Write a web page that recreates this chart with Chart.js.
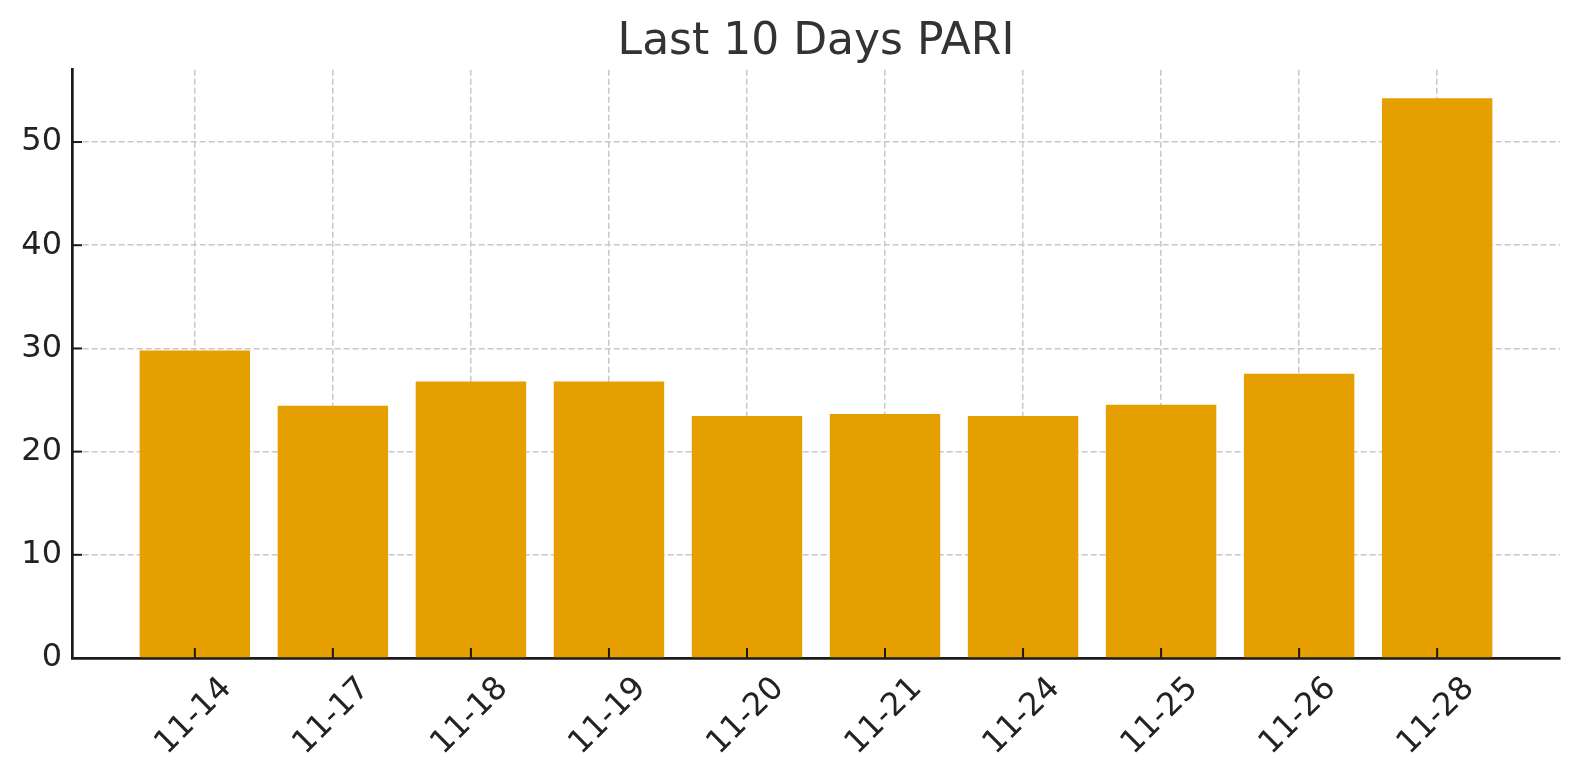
<!DOCTYPE html>
<html>
<head>
<meta charset="utf-8">
<title>Last 10 Days PARI</title>
<script src="https://cdn.jsdelivr.net/npm/chart.js@4.4.1/dist/chart.umd.min.js"></script>
<style>
  html, body { margin: 0; padding: 0; background: #fff; }
  #wrap { width: 1580px; height: 780px; }
</style>
</head>
<body>
<div id="wrap"><canvas id="grafico"></canvas></div>
<script>
// ── datos ──────────────────────────────
const dias = ['11-14', '11-17', '11-18', '11-19', '11-20', '11-21', '11-24', '11-25', '11-26', '11-28'];
const pari = [29.8, 24.45, 26.8, 26.8, 23.45, 23.65, 23.45, 24.55, 27.55, 54.25];
const yTicks = [0, 10, 20, 30, 40, 50];

const FUENTE = "'DejaVu Sans', sans-serif";

// ticks hacia dentro, como en matplotlib
const ticksDentro = {
    id: 'ticksDentro',
    afterDraw(chart) {
        const ctx = chart.ctx;
        const { x, y } = chart.scales;
        const area = chart.chartArea;
        ctx.save();
        ctx.strokeStyle = '#1a1a1a';
        ctx.lineWidth = 2;
        x.ticks.forEach((t, i) => {
            const px = x.getPixelForTick(i);
            ctx.beginPath();
            ctx.moveTo(px, area.bottom);
            ctx.lineTo(px, area.bottom - 10);
            ctx.stroke();
        });
        y.ticks.forEach((t, i) => {
            const py = y.getPixelForTick(i);
            ctx.beginPath();
            ctx.moveTo(area.left, py);
            ctx.lineTo(area.left + 10, py);
            ctx.stroke();
        });
        ctx.restore();
    }
};

new Chart(document.getElementById('grafico'), {
    type: 'bar',
    data: {
        datasets: [{
            label: 'PARI',
            data: dias.map((d, i) => ({ x: i, y: pari[i] })),
            backgroundColor: '#E69F00',
            borderWidth: 0,
            categoryPercentage: 0.8,
            barPercentage: 1.0,
        }]
    },
    options: {
        responsive: true,
        maintainAspectRatio: false,
        animation: false,
        layout: { padding: { left: 0, right: 20, top: 0, bottom: 0 } },
        plugins: {
            legend: { display: false },
            tooltip: { enabled: false },
            title: {
                display: true,
                fullSize: false,
                text: 'Last 10 Days PARI',
                color: '#333',
                font: { family: FUENTE, size: 44, weight: 'normal' },
                padding: { top: 16, bottom: 1 }
            }
        },
        scales: {
            x: {
                type: 'linear',
                min: -0.89,
                max: 9.89,
                offset: false,
                z: 1,
                afterBuildTicks: (s) => { s.ticks = dias.map((d, i) => ({ value: i })); },
                afterFit: (s) => { s.height = 122; },
                grid: { offset: false, color: '#c8c8c8', lineWidth: 1.5, drawTicks: false, tickLength: 0 },
                border: { display: true, color: '#1a1a1a', width: 2.7, dash: [6, 3] },
                ticks: {
                    autoSkip: false,
                    minRotation: 45,
                    maxRotation: 45,
                    labelOffset: 32,
                    padding: 12,
                    color: '#222',
                    font: { family: FUENTE, size: 32 },
                    callback: (v) => dias[v]
                }
            },
            y: {
                min: 0,
                max: 57,
                z: 1,
                afterBuildTicks: (s) => { s.ticks = yTicks.map(v => ({ value: v })); },
                afterFit: (s) => { s.width = 72; },
                grid: { color: '#c8c8c8', lineWidth: 1.5, drawTicks: false, tickLength: 0 },
                border: { display: true, color: '#1a1a1a', width: 2.7, dash: [6, 3] },
                ticks: {
                    padding: 10,
                    color: '#222',
                    font: { family: FUENTE, size: 32 }
                }
            }
        }
    },
    plugins: [ticksDentro]
});
</script>
</body>
</html>
